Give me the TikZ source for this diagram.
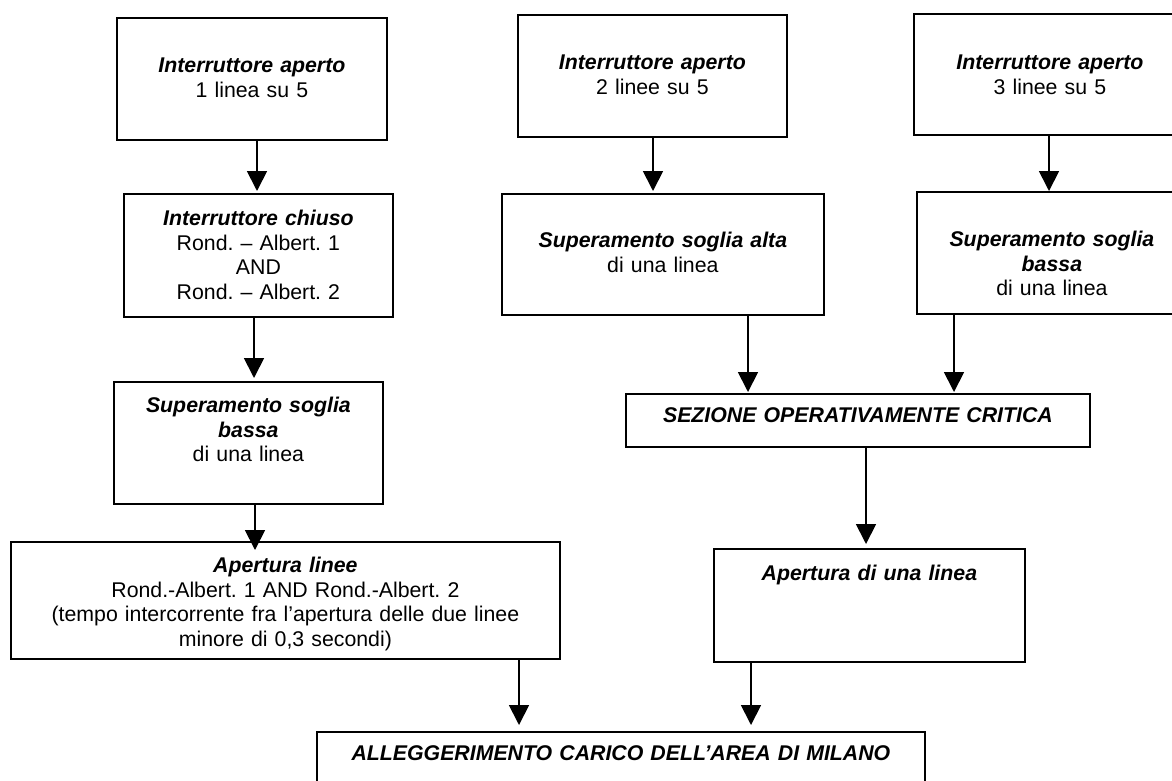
\documentclass[tikz,border=0pt]{standalone}
\usepackage{fontspec}
\setmainfont{Liberation Sans}
\usetikzlibrary{arrows.meta}
\frenchspacing

\begin{document}
\begin{tikzpicture}[x=1pt,y=-1pt,
    box/.style={draw, line width=1.8pt, inner sep=0pt, align=center, anchor=north west,
        font=\fontsize{21.3}{24.4}\selectfont},
    arr/.style={line width=1.8pt, -{Triangle[width=20pt,length=20pt]}}]
    \useasboundingbox (0,0) rectangle (1172,780);
    \clip (0,0) rectangle (1172,780);

    % Left branch
    \node[box, text width=270pt, text height=55pt, text depth=67pt] (open1) at (116,17)
        {\textbf{\textit{Interruttore aperto}}\\1 linea su 5};
    \node[box, text width=269pt, text height=32pt, text depth=91pt] (closed) at (123,193)
        {\textbf{\textit{Interruttore chiuso}}\\Rond. – Albert. 1\\AND\\Rond. – Albert. 2};
    \node[box, text width=269pt, text height=31pt, text depth=91pt] (low1) at (113,381)
        {\textbf{\textit{Superamento soglia}}\\\textbf{\textit{bassa}}\\di una linea};
    \node[box, text width=549pt, text height=31pt, text depth=86pt] (cut2) at (10,541)
        {\textbf{\textit{Apertura linee}}\\Rond.-Albert. 1 AND Rond.-Albert. 2\\(tempo intercorrente fra l’apertura delle due linee\\minore di 0,3 secondi)};

    % Right branches
    \node[box, text width=269pt, text height=55pt, text depth=67pt] (open2) at (517,14)
        {\textbf{\textit{Interruttore aperto}}\\2 linee su 5};
    \node[box, text width=322pt, text height=54pt, text depth=67pt] (high) at (501,193)
        {\textbf{\textit{Superamento soglia alta}}\\di una linea};
    \node[box, text width=272pt, text height=56pt, text depth=65pt] (open3) at (913,13)
        {\textbf{\textit{Interruttore aperto}}\\3 linee su 5};
    \node[box, text width=270pt, text height=55pt, text depth=67pt] (low3) at (916,191)
        {\textbf{\textit{Superamento soglia}}\\\textbf{\textit{bassa}}\\di una linea};
    \node[box, text width=464pt, text height=29pt, text depth=24pt] (crit) at (625,393)
        {\textbf{\textit{SEZIONE OPERATIVAMENTE CRITICA}}};
    \node[box, text width=311pt, text height=32pt, text depth=81pt] (cutone) at (713,548)
        {\textbf{\textit{Apertura di una linea}}};

    % Final result
    \node[box, text width=608pt, text height=29pt, text depth=35pt] (relief) at (316,731)
        {\textbf{\textit{ALLEGGERIMENTO CARICO DELL’AREA DI MILANO}}};

    % Connectors
    \foreach \from/\to/\x/\s in {open1/closed/257/2, closed/low1/254/3, low1/cut2/255/-9,
        open2/high/653/2, open3/low3/1049/0, high/crit/748/1, low3/crit/954/1,
        crit/cutone/866/4, cut2/relief/519/6, cutone/relief/751/6} {
        \draw[arr, shorten >=\s pt] (\x,0 |- \from.south) -- (\x,0 |- \to.north);
    }
\end{tikzpicture}
\end{document}
